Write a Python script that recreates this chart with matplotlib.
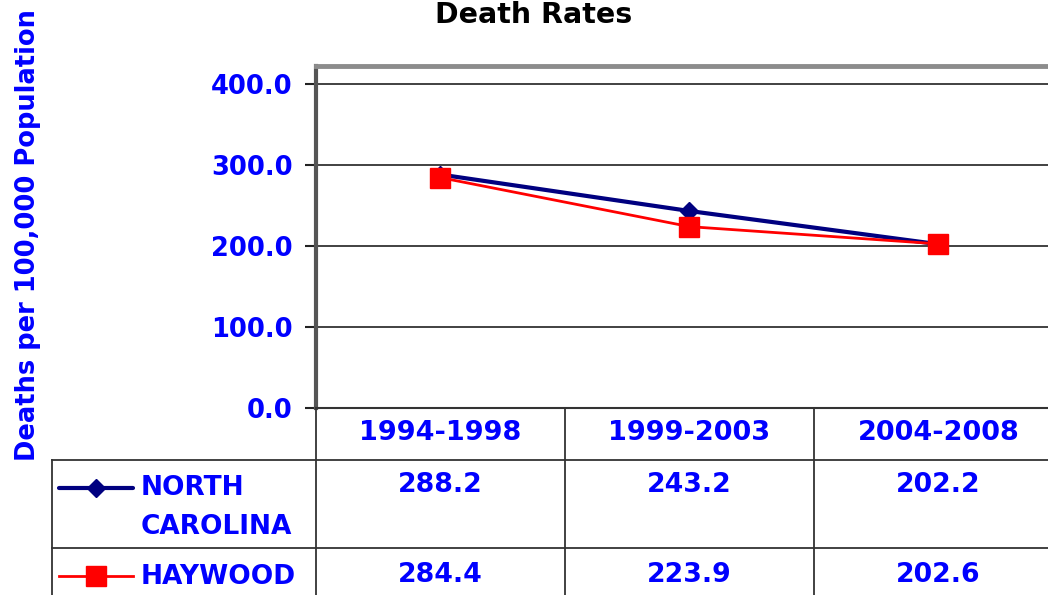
import matplotlib
matplotlib.use("Agg")
import matplotlib.pyplot as plt
from matplotlib.transforms import blended_transform_factory
from matplotlib.lines import Line2D

# ---- data ----
categories = ["1994-1998", "1999-2003", "2004-2008"]
nc_values = [288.2, 243.2, 202.2]
haywood_values = [284.4, 223.9, 202.6]
series_names = ["NORTH\nCAROLINA", "HAYWOOD"]
yticks = [0, 100, 200, 300, 400]

BLUE = "#0000ff"
NAVY = "#000080"
RED = "#ff0000"
FONT = "DejaVu Sans"

W, H = 1048, 595
fig = plt.figure(figsize=(W / 100, H / 100), dpi=100)

def fx(px):
    return px / W

def fy(py):
    return 1 - py / H

# main plot axes (extends past the right edge like the reference)
left, right, top, bottom = 316, 1063, 66, 408
ax = fig.add_axes([fx(left), fy(bottom), fx(right - left), (bottom - top) / H])
x = list(range(len(categories)))
ax.plot(x, nc_values, color=NAVY, lw=3, marker="D", ms=9, mfc=NAVY, mec=NAVY, zorder=3)
ax.plot(x, haywood_values, color=RED, lw=2, marker="s", ms=15, mfc=RED, mec=RED, zorder=4)
ax.set_xlim(-0.5, 2.5)
ymax = 400 * (bottom - top) / (bottom - 84)
ax.set_ylim(0, ymax)
ax.set_yticks(yticks)
ax.set_yticklabels([f"{v:.1f}" for v in yticks], color=BLUE, fontsize=18.5,
                   fontweight="bold", family=FONT)
ax.tick_params(axis="y", direction="out", length=8, width=1.5, color="#222222", pad=9)
ax.set_xticks([])
for v in yticks[1:]:
    ax.axhline(v, color="#333333", lw=1.3, zorder=1)
ax.spines["right"].set_visible(False)
ax.spines["left"].set_color("#555555")
ax.spines["left"].set_linewidth(3)
ax.spines["top"].set_color("#8c8c8c")
ax.spines["top"].set_linewidth(3.5)
ax.spines["bottom"].set_color("#333333")
ax.spines["bottom"].set_linewidth(1.5)

# overlay axes in pixel coordinates for the data table
ov = fig.add_axes([0, 0, 1, 1])
ov.set_xlim(0, W)
ov.set_ylim(H, 0)
ov.axis("off")
bt = blended_transform_factory(ax.transData, ov.transData)

lc = "#333333"
ov.add_line(Line2D([52, W], [460, 460], color=lc, lw=1.3))
ov.add_line(Line2D([52, W], [548, 548], color=lc, lw=1.3))
ov.add_line(Line2D([52, 52], [460, H], color=lc, lw=1.3))
for b in [-0.5, 0.5, 1.5]:
    ov.add_line(Line2D([b, b], [408, H], color=lc, lw=1.3, transform=bt))

for i, c in enumerate(categories):
    ov.text(i, 433, c, transform=bt, ha="center", va="center", color=BLUE,
            fontsize=19.5, fontweight="bold", family=FONT)
    ov.text(i, 485, f"{nc_values[i]:.1f}", transform=bt, ha="center", va="center",
            color=BLUE, fontsize=19.3, fontweight="bold", family=FONT)
    ov.text(i, 575, f"{haywood_values[i]:.1f}", transform=bt, ha="center", va="center",
            color=BLUE, fontsize=19.3, fontweight="bold", family=FONT)

# legend keys
ov.add_line(Line2D([59, 133], [488, 488], color=NAVY, lw=3, solid_capstyle="round"))
ov.add_line(Line2D([96], [488], marker="D", ms=9, color=NAVY, lw=0))
ov.add_line(Line2D([59, 133], [576, 576], color=RED, lw=2))
ov.add_line(Line2D([96], [576], marker="s", ms=15, color=RED, lw=0))
ov.text(141, 488, series_names[0].split("\n")[0], ha="left", va="center", color=BLUE,
        fontsize=19, fontweight="bold", family=FONT)
ov.text(141, 527, series_names[0].split("\n")[1], ha="left", va="center", color=BLUE,
        fontsize=19, fontweight="bold", family=FONT)
ov.text(141, 577, series_names[1], ha="left", va="center", color=BLUE,
        fontsize=19, fontweight="bold", family=FONT)

# titles
fig.text(fx(534), fy(15), "Death Rates", ha="center", va="center", color="black",
         fontsize=20.5, fontweight="bold", family=FONT)
fig.text(fx(28), fy(235), "Deaths per 100,000 Population", ha="center", va="center",
         rotation=90, color=BLUE, fontsize=18.5, fontweight="bold", family=FONT)

fig.savefig("out.png", dpi=100)
